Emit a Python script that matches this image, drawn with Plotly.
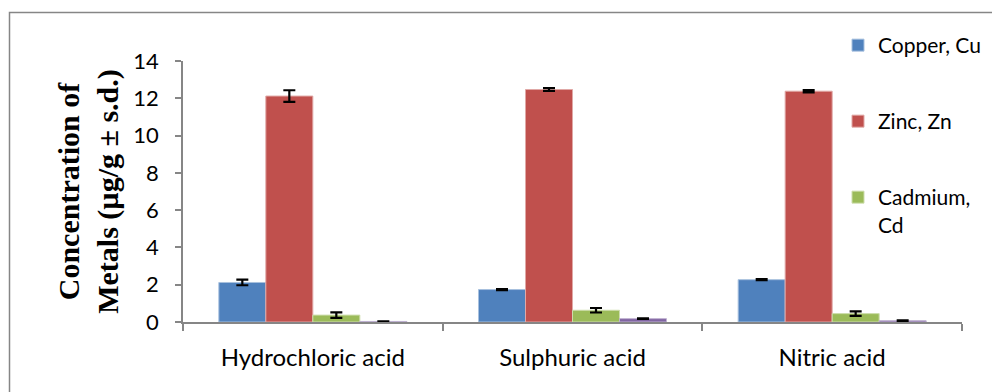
import plotly.graph_objects as go

categories = ["Hydrochloric acid", "Sulphuric acid", "Nitric acid"]
series_names = ["Copper, Cu", "Zinc, Zn", "Cadmium,<br>Cd", "Lead, Pb"]
copper = [2.12, 1.74, 2.27]
copper_sd = [0.15, 0.03, 0.03]
zinc = [12.12, 12.47, 12.38]
zinc_sd = [0.31, 0.08, 0.06]
cadmium = [0.37, 0.63, 0.45]
cadmium_sd = [0.15, 0.12, 0.12]
lead = [0.03, 0.18, 0.07]
lead_sd = [0.01, 0.02, 0.02]
y_ticks = [0, 2, 4, 6, 8, 10, 12, 14]

colors = ["#4F81BD", "#C0504D", "#9BBB59", "#8064A2"]
edge = ["#A7C0DE", "#E0A8A6", "#CDDDAC", "#BFB1D0"]
values = [copper, zinc, cadmium, lead]
sds = [copper_sd, zinc_sd, cadmium_sd, lead_sd]
legend_ids = ["legend", "legend2", "legend3", "legend4"]

L, R, T, B = 183, 30, 61, 70
W, H = 992, 392
pw, ph = W - L - R, H - T - B


def px(x):
    return (x - L) / pw


def py(y):
    return (H - B - y) / ph


fig = go.Figure()
for i, (name, v, sd) in enumerate(zip(series_names, values, sds)):
    fig.add_trace(go.Bar(
        x=categories, y=v, name=name,
        marker=dict(color=colors[i], line=dict(color=edge[i], width=1)),
        error_y=dict(type="data", array=sd, visible=True, color="black", thickness=2.2, width=6),
        legend=legend_ids[i], showlegend=(i < 3),
    ))

legend_font = dict(size=21, family="Lato, Open Sans, sans-serif", color="black")
legend_rows = [41, 117, 193]
legend_layouts = {}
for i, row in enumerate(legend_rows):
    legend_layouts[legend_ids[i]] = dict(
        x=px(838), y=py(row - 16), xanchor="left", yanchor="top",
        bgcolor="rgba(0,0,0,0)", font=legend_font, valign="top",
        itemwidth=30, visible=True)

fig.update_layout(
    width=W, height=H,
    margin=dict(l=L, r=R, t=T, b=B, pad=0, autoexpand=False),
    paper_bgcolor="white", plot_bgcolor="white",
    showlegend=True,
    barmode="group", bargap=0.276, bargroupgap=0,
    font=dict(family="Lato, Open Sans, sans-serif", size=22, color="black"),
    xaxis=dict(showline=True, linecolor="#868686", linewidth=1.5,
               ticks="outside", tickson="boundaries", ticklen=7, tickcolor="#868686",
               tickwidth=1.5, tickfont=dict(size=24), showgrid=False,
               ticklabelstandoff=13),
    yaxis=dict(range=[0, 14], tickvals=y_ticks, showline=True, linecolor="#868686",
               linewidth=1.5, ticks="outside", ticklen=6, tickcolor="#868686",
               tickwidth=1.5, showgrid=False, zeroline=False, tickfont=dict(size=22),
               ticklabelstandoff=12,
               title=dict(text="<b>Concentration of<br>Metals (µg/g ± s.d.)</b>",
                          font=dict(family="Liberation Serif, Times New Roman, serif", size=30),
                          standoff=6)),
    shapes=[dict(type="rect", xref="paper", yref="paper",
                 x0=px(9.5), x1=px(1100), y0=py(600), y1=py(12.5),
                 line=dict(color="#868686", width=1.5), fillcolor="rgba(0,0,0,0)", layer="below")],
    **legend_layouts,
)

fig.write_html("out.html")
